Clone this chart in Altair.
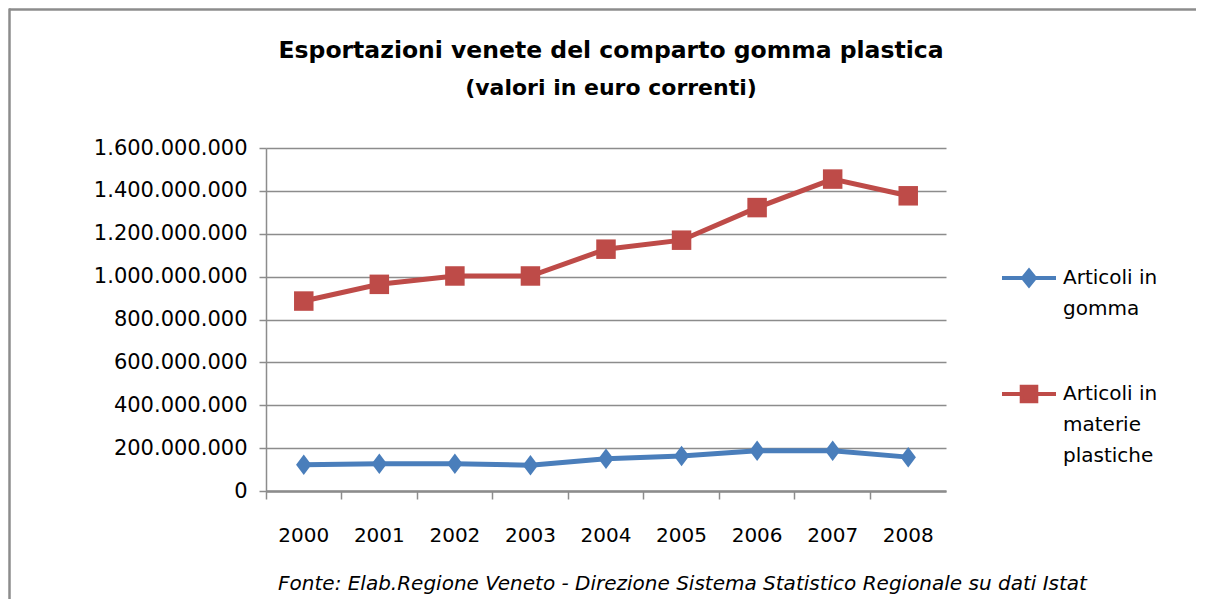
import altair as alt
import pandas as pd

years = ["2000", "2001", "2002", "2003", "2004", "2005", "2006", "2007", "2008"]
gomma = [123e6, 127e6, 127e6, 120e6, 150e6, 163e6, 188e6, 188e6, 158e6]
plastiche = [886e6, 964e6, 1003e6, 1003e6, 1128e6, 1170e6, 1322e6, 1455e6, 1377e6]
series_names = ["Articoli in gomma", "Articoli in materie plastiche"]
series_colors = ["#4A7EBB", "#BE4B48"]
legend_shapes = [
    "M-1,0H1M-0.22,0L0,-0.27L0.22,0L0,0.27Z",
    "M-1,0H1M-0.27,-0.27H0.27V0.27H-0.27Z",
]
y_ticks = [0, 200e6, 400e6, 600e6, 800e6, 1000e6, 1200e6, 1400e6, 1600e6]

rows = []
for i, y in enumerate(years):
    rows.append({"anno": y, "serie": series_names[0], "valore": gomma[i]})
    rows.append({"anno": y, "serie": series_names[1], "valore": plastiche[i]})
df = pd.DataFrame(rows)

FONT = "DejaVu Sans"
W, H = 680, 343
PAD = {"left": 258, "top": 140, "right": 250, "bottom": 108}

x_enc = alt.X(
    "anno:O",
    scale=alt.Scale(type="band", paddingInner=0, paddingOuter=0),
    bandPosition=0.5,
    axis=alt.Axis(
        title="Fonte: Elab.Regione Veneto - Direzione Sistema Statistico Regionale su dati Istat",
        titleFont=FONT, titleFontSize=20, titleFontStyle="italic", titleFontWeight="normal",
        titleColor="#000000", titleX=416, titleY=92, titleAnchor="middle", titleBaseline="middle",
        labelAngle=0, labelFont=FONT, labelFontSize=20, labelColor="#000000", labelPadding=26,
        bandPosition=0, tickSize=8, tickColor="#8C8C8C", tickWidth=1.5,
        domainColor="#8C8C8C", domainWidth=2.5, grid=False,
    ),
)
y_enc = alt.Y(
    "valore:Q",
    scale=alt.Scale(domain=[0, 1600e6], nice=False),
    axis=alt.Axis(
        title=None, values=y_ticks, format=",d",
        labelFont=FONT, labelFontSize=21, labelColor="#000000", labelPadding=12,
        tickSize=7, tickColor="#8C8C8C", tickWidth=1.5,
        domainColor="#8C8C8C", domainWidth=1.5,
        grid=True, gridColor="#8C8C8C", gridWidth=1.5,
    ),
)
color_enc = alt.Color(
    "serie:N",
    scale=alt.Scale(domain=series_names, range=series_colors),
    legend=alt.Legend(
        title=None, orient="none", legendX=734, legendY=101, padding=0,
        labelFont=FONT, labelFontSize=20, labelColor="#000000", labelLimit=300,
        labelBaseline="middle",
        labelExpr="datum.label == 'Articoli in gomma' ? ['Articoli in', 'gomma'] : ['Articoli in', 'materie', 'plastiche']",
        symbolSize=2916, symbolStrokeWidth=4, labelOffset=5, rowPadding=46,
    ),
)

base = alt.Chart(df)
lines = base.mark_line(strokeWidth=5).encode(x=x_enc, y=y_enc, color=color_enc)
pts_g = base.transform_filter(alt.datum.serie == series_names[0]).mark_point(
    shape="M-0.75,0L0,-1L0.75,0L0,1Z", size=420, filled=True, opacity=1
).encode(x=x_enc, y=y_enc, color=color_enc)
pts_p = base.transform_filter(alt.datum.serie == series_names[1]).mark_point(
    shape="square", size=380, filled=True, opacity=1
).encode(x=x_enc, y=y_enc, color=color_enc)
legend_layer = base.transform_filter("false").mark_point(filled=True, opacity=1).encode(
    x=x_enc, y=y_enc, color=color_enc,
    shape=alt.Shape("serie:N", scale=alt.Scale(domain=series_names, range=legend_shapes)),
)

# outer chart frame (top and left edges, as in the source image)
frame_df = pd.DataFrame({"f": [0]})
frame_top = alt.Chart(frame_df).mark_rule(stroke="#8C8C8C", strokeWidth=2.5, clip=False).encode(
    x=alt.value(-PAD["left"] + 1), x2=alt.value(W + PAD["right"]),
    y=alt.value(-PAD["top"] + 1.5),
)
frame_left = alt.Chart(frame_df).mark_rule(stroke="#8C8C8C", strokeWidth=2.5, clip=False).encode(
    x=alt.value(-PAD["left"] + 1.5),
    y=alt.value(-PAD["top"] + 0.5), y2=alt.value(H + PAD["bottom"]),
)

chart = alt.layer(frame_top, frame_left, lines, pts_g, pts_p, legend_layer).properties(
    width=W, height=H,
    title=alt.TitleParams(
        text="Esportazioni venete del comparto gomma plastica",
        subtitle="(valori in euro correnti)",
        font=FONT, fontSize=23.5, fontWeight="bold", color="#000000",
        subtitleFont=FONT, subtitleFontSize=22, subtitleFontWeight="bold", subtitleColor="#000000",
        subtitlePadding=16, anchor="middle", offset=-92, frame="group", dx=5,
    ),
    padding=PAD,
    autosize=alt.AutoSizeParams(type="none"),
).configure(
    locale={"number": {"decimal": ",", "thousands": ".", "grouping": [3], "currency": ["€", ""]}},
    style={"guide-label": {"lineHeight": 31}},
).configure_view(stroke=None).configure_legend(
    symbolType="stroke"
)

chart.save("out.html", embed_options={"renderer": "svg", "actions": False})
